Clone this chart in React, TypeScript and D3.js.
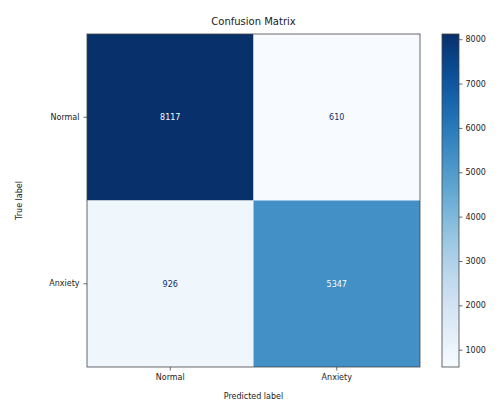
import React, { useEffect, useRef } from "react";
import * as d3 from "d3";

const labels = ["Normal", "Anxiety"];
// rows = true label, cols = predicted label
const rowNormal = [8117, 610];
const rowAnxiety = [926, 5347];
const colorbarTicks = [1000, 2000, 3000, 4000, 5000, 6000, 7000, 8000];

export default function App() {
  const svgRef = useRef<SVGSVGElement>(null);

  useEffect(() => {
    const width = 499;
    const height = 402;
    const margin = { top: 34, left: 87 };
    const size = 333;

    const svg = d3.select(svgRef.current).attr("width", width).attr("height", height);
    svg.selectAll("*").remove();

    const font = "DejaVu Sans, sans-serif";
    const matrix = [rowNormal, rowAnxiety];
    const all = matrix.flat();
    const vmin = d3.min(all) as number;
    const vmax = d3.max(all) as number;

    const color = d3.scaleSequential(d3.interpolateBlues).domain([vmin, vmax]);
    const x = d3.scaleBand().domain(labels).range([0, size]);
    const y = d3.scaleBand().domain(labels).range([0, size]);

    // Title
    svg
      .append("text")
      .attr("x", margin.left + size / 2)
      .attr("y", 25)
      .attr("text-anchor", "middle")
      .attr("font-family", font)
      .attr("font-size", 10)
      .attr("fill", "#222")
      .text("Confusion Matrix");

    const chart = svg.append("g").attr("transform", `translate(${margin.left},${margin.top})`);

    const cells = matrix.flatMap((row, i) =>
      row.map((v, j) => ({ t: labels[i], p: labels[j], v }))
    );

    chart
      .selectAll("rect.cell")
      .data(cells)
      .join("rect")
      .attr("class", "cell")
      .attr("x", (d) => x(d.p)!)
      .attr("y", (d) => y(d.t)!)
      .attr("width", x.bandwidth())
      .attr("height", y.bandwidth())
      .attr("fill", (d) => color(d.v));

    const thresh = (vmin + vmax) / 2;
    chart
      .selectAll("text.val")
      .data(cells)
      .join("text")
      .attr("class", "val")
      .attr("x", (d) => x(d.p)! + x.bandwidth() / 2)
      .attr("y", (d) => y(d.t)! + y.bandwidth() / 2)
      .attr("dy", "0.35em")
      .attr("text-anchor", "middle")
      .attr("font-family", font)
      .attr("font-size", 8)
      .attr("fill", (d) => (d.v < thresh ? d3.interpolateBlues(1) : d3.interpolateBlues(0)))
      .text((d) => d.v);

    // frame
    chart
      .append("rect")
      .attr("width", size)
      .attr("height", size)
      .attr("fill", "none")
      .attr("stroke", "#444")
      .attr("stroke-width", 0.8);

    // axes
    const xAxis = chart
      .append("g")
      .attr("transform", `translate(0,${size})`)
      .call(d3.axisBottom(x).tickSize(3.5).tickPadding(4));
    const yAxis = chart.append("g").call(d3.axisLeft(y).tickSize(3.5).tickPadding(4));
    [xAxis, yAxis].forEach((g) => {
      g.select(".domain").remove();
      g.selectAll("line").attr("stroke", "#444").attr("stroke-width", 0.8);
      g.selectAll("text").attr("font-family", font).attr("font-size", 8).attr("fill", "#222");
    });

    svg
      .append("text")
      .attr("x", margin.left + size / 2)
      .attr("y", 399)
      .attr("text-anchor", "middle")
      .attr("font-family", font)
      .attr("font-size", 8)
      .attr("fill", "#222")
      .text("Predicted label");

    svg
      .append("text")
      .attr("transform", `translate(22,${margin.top + size / 2}) rotate(-90)`)
      .attr("text-anchor", "middle")
      .attr("font-family", font)
      .attr("font-size", 8)
      .attr("fill", "#222")
      .text("True label");

    // colorbar
    const cbX = 442;
    const cbW = 17;
    const grad = svg
      .append("defs")
      .append("linearGradient")
      .attr("id", "cbgrad")
      .attr("x1", 0)
      .attr("y1", 1)
      .attr("x2", 0)
      .attr("y2", 0);
    d3.range(0, 1.0001, 0.05).forEach((t) => {
      grad.append("stop").attr("offset", t).attr("stop-color", d3.interpolateBlues(t));
    });

    const cbScale = d3.scaleLinear().domain([vmin, vmax]).range([margin.top + size, margin.top]);
    svg
      .append("rect")
      .attr("x", cbX)
      .attr("y", margin.top)
      .attr("width", cbW)
      .attr("height", size)
      .attr("fill", "url(#cbgrad)")
      .attr("stroke", "#444")
      .attr("stroke-width", 0.8);

    const cbAxis = svg
      .append("g")
      .attr("transform", `translate(${cbX + cbW},0)`)
      .call(
        d3
          .axisRight(cbScale)
          .tickValues(colorbarTicks)
          .tickFormat(d3.format("d"))
          .tickSize(3.5)
          .tickPadding(3)
      );
    cbAxis.select(".domain").remove();
    cbAxis.selectAll("line").attr("stroke", "#444").attr("stroke-width", 0.8);
    cbAxis.selectAll("text").attr("font-family", font).attr("font-size", 8).attr("fill", "#222");
  }, []);

  return <svg ref={svgRef} style={{ position: "absolute", left: 0, top: 0 }}></svg>;
}
